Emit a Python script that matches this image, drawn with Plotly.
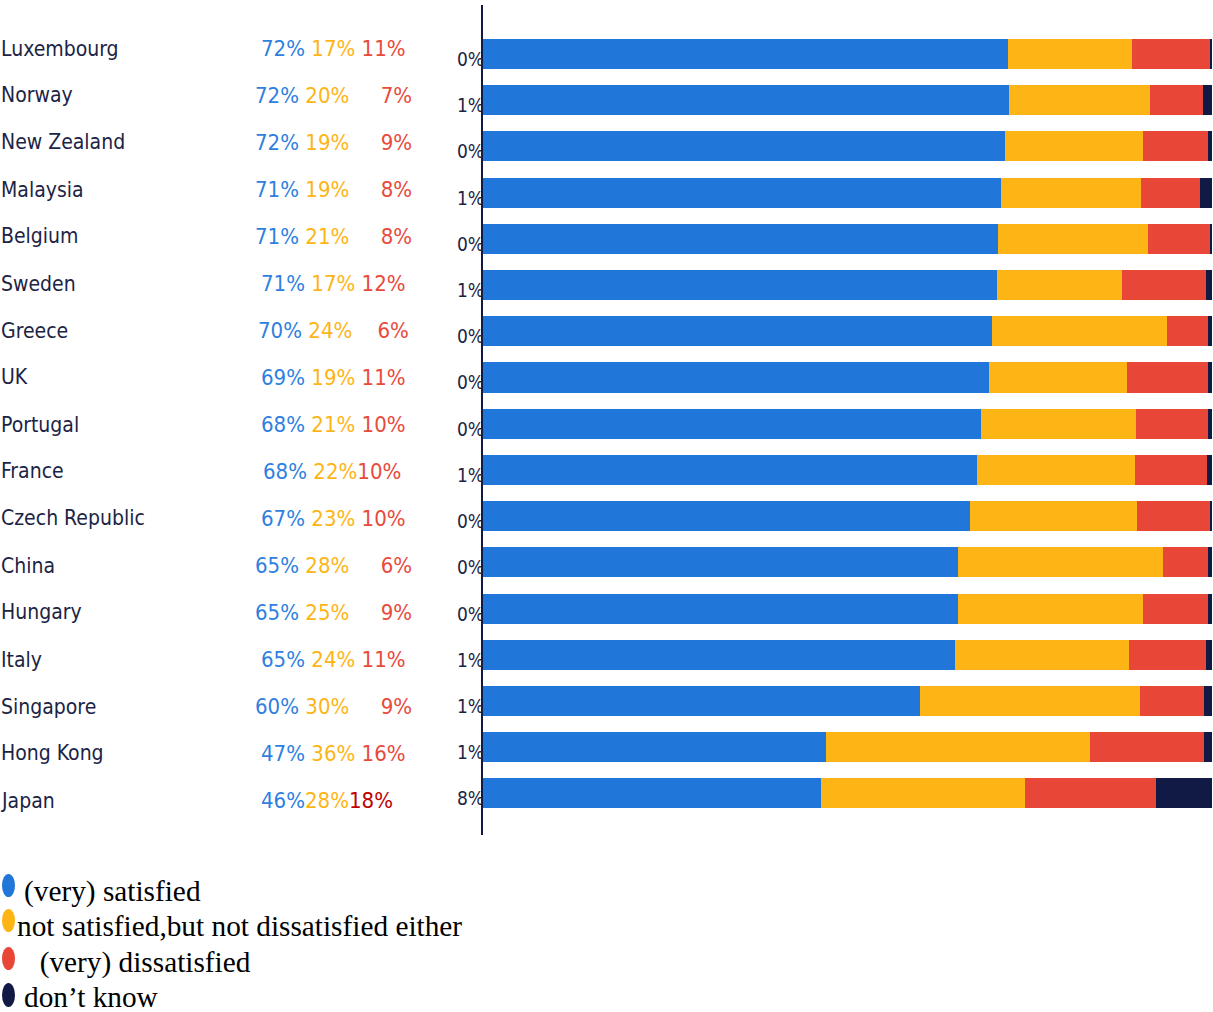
import plotly.graph_objects as go

# ---------------- data ----------------
countries = ["Luxembourg", "Norway", "New Zealand", "Malaysia", "Belgium", "Sweden",
             "Greece", "UK", "Portugal", "France", "Czech Republic", "China",
             "Hungary", "Italy", "Singapore", "Hong Kong", "Japan"]

satisfied    = [72.0, 72.1, 71.6, 71.0, 70.6, 70.5, 69.8, 69.4, 68.3, 67.7, 66.8, 65.1, 65.1, 64.8, 59.9, 47.1, 46.4]
neutral      = [17.0, 19.4, 19.0, 19.2, 20.6, 17.2, 24.0, 19.0, 21.3, 21.7, 22.9, 28.2, 25.4, 23.8, 30.2, 36.1, 28.0]
dissatisfied = [10.7,  7.3,  8.9,  8.2,  8.5, 11.5,  5.6, 11.1,  9.9,  9.9, 10.0,  6.2,  8.9, 10.6,  8.8, 15.7, 17.9]
dont_know    = [ 0.3,  1.2,  0.5,  1.6,  0.3,  0.8,  0.6,  0.5,  0.5,  0.7,  0.3,  0.5,  0.6,  0.8,  1.1,  1.1,  7.7]

# printed labels (rounded values as shown)
sat_lbl = [72, 72, 72, 71, 71, 71, 70, 69, 68, 68, 67, 65, 65, 65, 60, 47, 46]
neu_lbl = [17, 20, 19, 19, 21, 17, 24, 19, 21, 22, 23, 28, 25, 24, 30, 36, 28]
dis_lbl = [11,  7,  9,  8,  8, 12,  6, 11, 10, 10, 10,  6,  9, 11,  9, 16, 18]
dk_lbl  = [ 0,  1,  0,  1,  0,  1,  0,  0,  0,  1,  0,  0,  0,  1,  1,  1,  8]

series_names = ["(very) satisfied", "not satisfied,but not dissatisfied either",
                "(very) dissatisfied", "don\u2019t know"]

# ---------------- styles ----------------
C_BLUE, C_YEL, C_RED, C_NAVY = "#2176D9", "#FDB515", "#E84637", "#111A44"
L_BLUE, L_YEL, L_RED, L_RED_DARK = "#2F7FE0", "#FDB515", "#E84A3C", "#C00000"
TXT = "#1C2445"
SANS = "DejaVu Sans Condensed, Liberation Sans, sans-serif"
SERIF = "Liberation Serif, Times New Roman, serif"

W, H = 1213, 1012
ML, MR, MT, MB = 483, 1, 5, 177
PW, PH = W - ML - MR, H - MT - MB
Y_RANGE = [16.9, -1.06]

def px_x(x):
    return (x - ML) / PW

def px_y(y):
    return (MT + PH - y) / PH

def bar_center_px(i):
    return MT + (i - Y_RANGE[1]) / (Y_RANGE[0] - Y_RANGE[1]) * PH

# text rows of the left table sit on their own 47 px grid
TEXT_ROW0, TEXT_STEP = 48.5, 47.0

fig = go.Figure()
for vals, name, col in zip([satisfied, neutral, dissatisfied, dont_know], series_names,
                           [C_BLUE, C_YEL, C_RED, C_NAVY]):
    fig.add_trace(go.Bar(x=vals, y=countries, orientation="h", name=name,
                         marker=dict(color=col, line=dict(width=0)),
                         showlegend=False, hoverinfo="x+y+name"))

annotations = []
NB = "\u00a0"
gap_override = {"France": (1, 0), "Japan": (0, 0), "Greece": (1, 4)}
center_override = {"Japan": 327, "France": 332}
for i, c in enumerate(countries):
    ys = bar_center_px(i) - (TEXT_ROW0 + TEXT_STEP * i)
    annotations.append(dict(x=px_x(-1), y=c, xref="paper", yref="y", xanchor="left", yanchor="middle",
                            text=c, showarrow=False, yshift=ys,
                            font=dict(family=SANS, size=21, color=TXT)))
    g1, g2 = gap_override.get(c, (1, 5 if dis_lbl[i] < 10 else 1))
    rc = L_RED_DARK if c == "Japan" else L_RED
    t = (f"<span style='color:{L_BLUE}'>{sat_lbl[i]}%</span>{NB*g1}"
         f"<span style='color:{L_YEL}'>{neu_lbl[i]}%</span>{NB*g2}"
         f"<span style='color:{rc}'>{dis_lbl[i]}%</span>")
    annotations.append(dict(x=px_x(center_override.get(c, 333.5)), y=c, xref="paper", yref="y",
                            xanchor="center", yanchor="middle",
                            text=t, showarrow=False, yshift=ys,
                            font=dict(family=SANS, size=22, color=L_BLUE)))
    annotations.append(dict(x=0, y=c, xref="paper", yref="y", xanchor="right", yanchor="middle",
                            text=f"{dk_lbl[i]}%", showarrow=False, yshift=-5, xshift=3,
                            font=dict(family=SANS, size=19, color=TXT)))

# manual legend
leg = [  # (marker y0, y1, text x, text baseline)
    (874, 897, 24, 901),
    (909, 932, 17, 936),
    (947, 970, 25, 972),
    (983, 1007, 24, 1007),
]
shapes = []
for (y0, y1, tx, base), name, col in zip(leg, series_names, [C_BLUE, C_YEL, C_RED, C_NAVY]):
    shapes.append(dict(type="circle", xref="paper", yref="paper",
                       x0=px_x(2), x1=px_x(15), y0=px_y(y1), y1=px_y(y0),
                       fillcolor=col, line=dict(width=0)))
    txt = (NB * 2 + name) if name == "(very) dissatisfied" else name
    annotations.append(dict(x=px_x(tx - 2), y=px_y(base - 10),
                            xref="paper", yref="paper", xanchor="left", yanchor="middle",
                            text=txt, showarrow=False,
                            font=dict(family=SERIF, size=29.3, color="#000000")))

fig.update_layout(
    width=W, height=H, barmode="stack", bargap=0.35,
    margin=dict(l=ML, r=MR, t=MT, b=MB, pad=0),
    paper_bgcolor="white", plot_bgcolor="white",
    xaxis=dict(range=[0, 100], visible=False, fixedrange=True),
    yaxis=dict(type="category", categoryarray=countries, range=Y_RANGE,
               showticklabels=False, ticks="", showgrid=False, zeroline=False,
               showline=True, linecolor=C_NAVY, linewidth=1.5, fixedrange=True),
    annotations=annotations, shapes=shapes,
)

fig.write_html("out.html", config={"displayModeBar": False},
               post_script="document.body.style.margin='0px';document.body.style.overflow='hidden';")
